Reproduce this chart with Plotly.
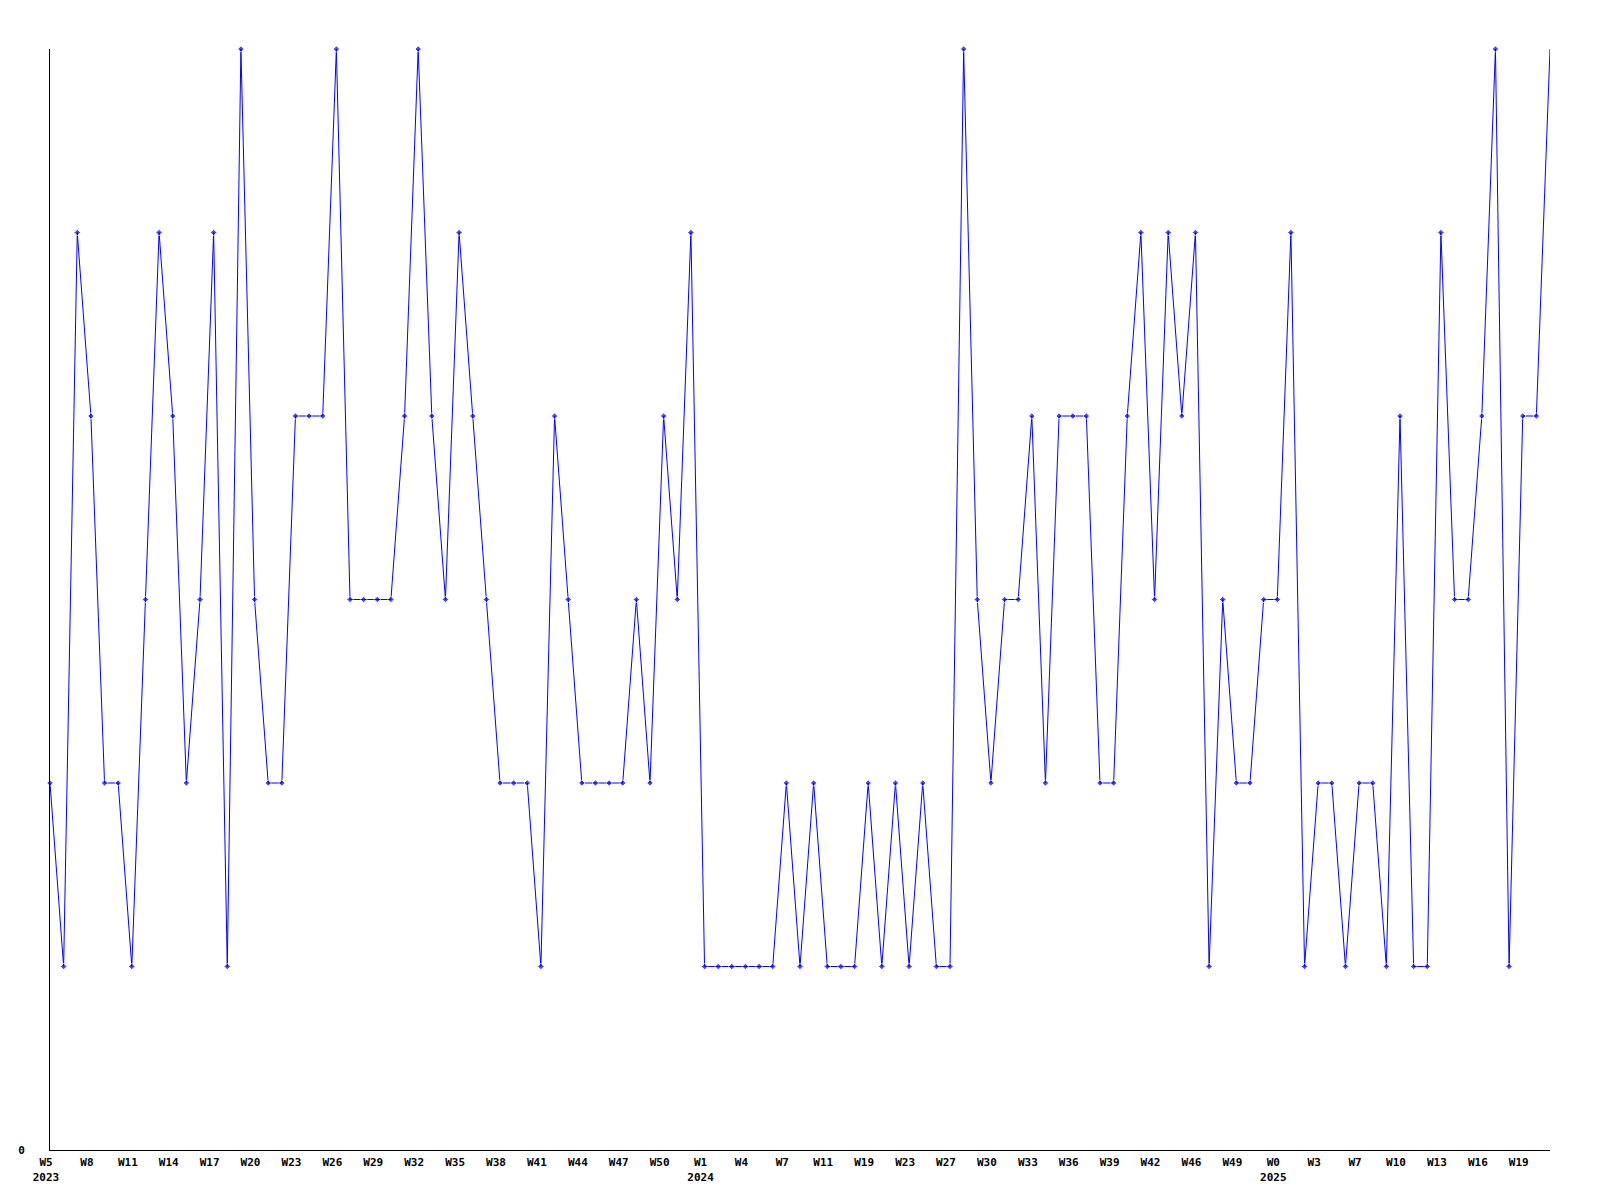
import plotly.graph_objects as go

weeks_2023 = [f"W{w}" for w in range(5, 53)]
weeks_2024 = ["W1", "W2", "W3", "W4", "W5", "W6", "W7", "W8", "W10", "W11", "W13", "W16",
              "W19", "W20", "W22", "W23", "W24", "W26", "W27", "W28", "W29", "W30", "W31",
              "W32", "W33", "W34", "W35", "W36", "W37", "W38", "W39", "W40", "W41", "W42",
              "W43", "W45", "W46", "W47", "W48", "W49", "W50", "W52"]
weeks_2025 = ["W0", "W1", "W2", "W3", "W4", "W6", "W7", "W8", "W9", "W10", "W11", "W12",
              "W13", "W14", "W15", "W16", "W17", "W18", "W19", "W20", "W21"]

values = [
    2, 1, 5, 4, 2, 2, 1, 3, 5, 4, 2, 3, 5, 1, 6, 3, 2, 2, 4, 4,
    4, 6, 3, 3, 3, 3, 4, 6, 4, 3, 5, 4, 3, 2, 2, 2, 1, 4, 3, 2,
    2, 2, 2, 3, 2, 4, 3, 5, 1, 1, 1, 1, 1, 1, 2, 1, 2, 1, 1, 1,
    2, 1, 2, 1, 2, 1, 1, 6, 3, 2, 3, 3, 4, 2, 4, 4, 4, 2, 2, 4,
    5, 3, 5, 4, 5, 1, 3, 2, 2, 3, 3, 5, 1, 2, 2, 1, 2, 2, 1, 4,
    1, 1, 5, 3, 3, 4, 6, 1, 4, 4, 6,
]

labels = []
years = []
for yr, wk in (("2023", weeks_2023), ("2024", weeks_2024), ("2025", weeks_2025)):
    for i, w in enumerate(wk):
        labels.append(w)
        years.append(yr if i == 0 else "")

x = list(range(len(values)))
tickvals = x[::3]
ticktext = [labels[i] + ("<br>" + years[i] if years[i] else "") for i in tickvals]

sizes = [5] * len(values)
sizes[-1] = 0

fig = go.Figure(go.Scatter(
    x=x, y=values, mode="lines+markers",
    line=dict(color="#0000ff", width=1),
    marker=dict(symbol="diamond", size=sizes, color="#0000ff"),
    cliponaxis=False,
    hoverinfo="skip",
))

font = dict(family="DejaVu Sans Mono", size=11, color="black", weight="bold")

fig.update_layout(
    width=1592, height=1192,
    margin=dict(l=42, r=50, t=41, b=50, autoexpand=False),
    paper_bgcolor="white", plot_bgcolor="white",
    showlegend=False,
    xaxis=dict(
        range=[0, len(values) - 1], tickvals=tickvals, ticktext=ticktext,
        showgrid=False, zeroline=False, showline=True, linecolor="black", linewidth=1,
        ticks="", tickfont=font, ticklabelshift=-4, ticklabelstandoff=2, automargin=False,
    ),
    yaxis=dict(
        range=[0, 6], tickvals=[0], ticktext=["0"],
        showgrid=False, zeroline=False, showline=True, linecolor="black", linewidth=1,
        ticks="", tickfont=font, ticklabelstandoff=22, automargin=False,
    ),
)

fig.write_html("out.html")
